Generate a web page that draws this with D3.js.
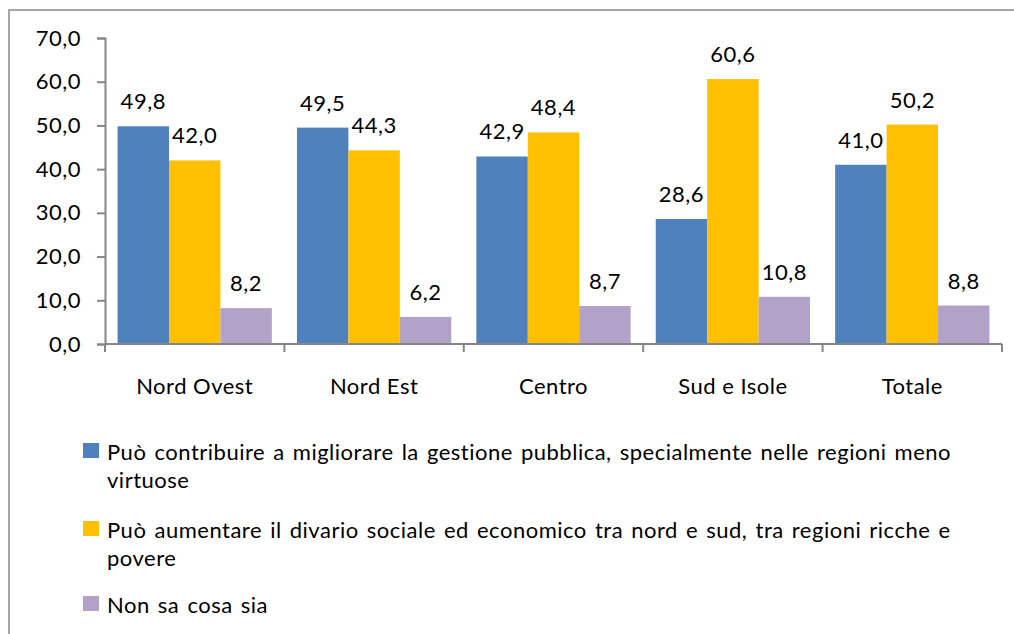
<!DOCTYPE html>
<html>
<head>
<meta charset="utf-8">
<script src="https://cdn.jsdelivr.net/npm/d3@7"></script>
<style>
  body { margin: 0; background: #fff; }
  svg text { font-family: Lato, "Open Sans", sans-serif; fill: #000; font-size: 22px; letter-spacing: 0.5px; }
</style>
</head>
<body>
<div id="chart"></div>
<script>
// Data
const categories = ['Nord Ovest', 'Nord Est', 'Centro', 'Sud e Isole', 'Totale'];
const seriesNames = [
  'Può contribuire a migliorare la gestione pubblica, specialmente nelle regioni meno virtuose',
  'Può aumentare il divario sociale ed economico tra nord e sud, tra regioni ricche e povere',
  'Non sa cosa sia'
];
// legend lines as wrapped in the original
const legendLines = [
  ['Può contribuire a migliorare la gestione pubblica, specialmente nelle regioni meno', 'virtuose'],
  ['Può aumentare il divario sociale ed economico tra nord e sud, tra regioni ricche e', 'povere'],
  ['Non sa cosa sia']
];
const migliorare = [49.8, 49.5, 42.9, 28.6, 41.0];
const divario = [42.0, 44.3, 48.4, 60.6, 50.2];
const nonSa = [8.2, 6.2, 8.7, 10.8, 8.8];
const yTicks = [0, 10, 20, 30, 40, 50, 60, 70];
const colors = ['#4F81BD', '#FFC000', '#B3A2C7'];

const series = [migliorare, divario, nonSa];

const width = 1014, height = 634;
const margin = { left: 105, right: 12, top: 38, bottom: 290 };
const fmt = v => v.toFixed(1).replace('.', ',');

const svg = d3.select('#chart').append('svg')
  .attr('width', width)
  .attr('height', height);

// Outer frame
svg.append('rect')
  .attr('x', 9).attr('y', 10)
  .attr('width', width + 20).attr('height', height + 20)
  .attr('fill', 'none')
  .attr('stroke', '#a6a6a6')
  .attr('stroke-width', 2);

const x0 = d3.scaleBand()
  .domain(categories)
  .range([margin.left, 1002])
  .paddingInner(0.14)
  .paddingOuter(0.07);

const x1 = d3.scaleBand()
  .domain(d3.range(series.length))
  .range([0, x0.bandwidth()]);

const y = d3.scaleLinear()
  .domain([0, 70])
  .range([344, margin.top]);

// Bars
const groups = svg.selectAll('g.cat')
  .data(categories)
  .join('g')
  .attr('class', 'cat')
  .attr('transform', d => `translate(${x0(d)},0)`);

series.forEach((vals, si) => {
  groups.append('rect')
    .attr('x', x1(si))
    .attr('y', (d, i) => y(vals[i]))
    .attr('width', x1.bandwidth())
    .attr('height', (d, i) => y(0) - y(vals[i]))
    .attr('fill', colors[si]);

  groups.append('text')
    .attr('x', x1(si) + x1.bandwidth() / 2)
    .attr('y', (d, i) => y(vals[i]) - 17)
    .attr('text-anchor', 'middle')
    .text((d, i) => fmt(vals[i]));
});

// Y axis
const yAxis = d3.axisLeft(y)
  .tickValues(yTicks)
  .tickSize(8)
  .tickPadding(16)
  .tickFormat(fmt);

const yG = svg.append('g')
  .attr('transform', `translate(${margin.left},0)`)
  .call(yAxis);
yG.select('.domain').attr('stroke', '#868686').attr('stroke-width', 2);
yG.selectAll('.tick line').attr('stroke', '#868686').attr('stroke-width', 2);
yG.selectAll('.tick text').attr('font-size', null).attr('font-family', null).attr('fill', '#000');

// X axis line + category separators
const xG = svg.append('g');
xG.append('line')
  .attr('x1', margin.left).attr('x2', 1002)
  .attr('y1', y(0)).attr('y2', y(0))
  .attr('stroke', '#868686').attr('stroke-width', 2);

const sepPos = categories.map(c => x0(c) - x0.step() * x0.paddingOuter()).concat([1002]);
xG.selectAll('line.sep')
  .data(sepPos)
  .join('line')
  .attr('class', 'sep')
  .attr('x1', d => d).attr('x2', d => d)
  .attr('y1', y(0)).attr('y2', y(0) + 8)
  .attr('stroke', '#868686').attr('stroke-width', 2);

xG.selectAll('text.cat')
  .data(categories)
  .join('text')
  .attr('class', 'cat')
  .attr('x', d => x0(d) + x0.bandwidth() / 2)
  .attr('y', 394)
  .attr('text-anchor', 'middle')
  .text(d => d);

// Legend
const legendTop = [443, 521, 596];
const legend = svg.selectAll('g.legend')
  .data(seriesNames)
  .join('g')
  .attr('class', 'legend')
  .attr('transform', (d, i) => `translate(83,${legendTop[i]})`);

legend.append('rect')
  .attr('width', 16).attr('height', 15)
  .attr('fill', (d, i) => colors[i]);

legend.each(function(d, i) {
  const t = d3.select(this).append('text')
    .attr('x', 24)
    .style('word-spacing', '2px');
  legendLines[i].forEach((line, li) => {
    t.append('tspan')
      .attr('x', 24)
      .attr('y', 17 + li * 28)
      .text(line);
  });
});
</script>
</body>
</html>
